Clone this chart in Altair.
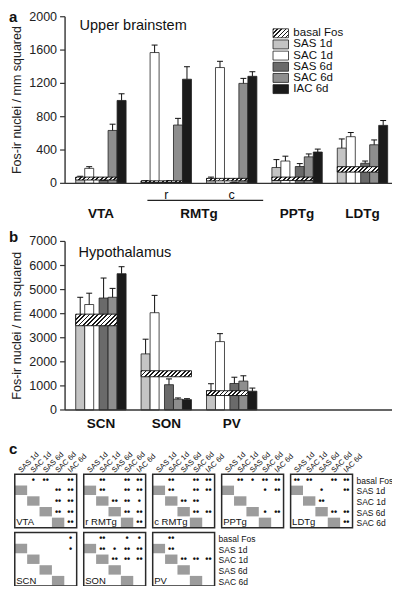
import altair as alt
import pandas as pd

# ---------------- data ----------------
conditions = ["SAS 1d", "SAC 1d", "SAS 6d", "SAC 6d", "IAC 6d"]
legend_labels = ["basal Fos", "SAS 1d", "SAC 1d", "SAS 6d", "SAC 6d", "IAC 6d"]
matrix_rows = ["basal Fos", "SAS 1d", "SAC 1d", "SAS 6d", "SAC 6d"]
y_title = "Fos-ir nuclei / mm squared"

# panel a: upper brainstem (mean, SEM per condition)
brain_groups = ["VTA", "r", "c", "PPTg", "LDTg"]
brain_ticks = [0, 400, 800, 1200, 1600, 2000]
vta_mean = [70, 180, 35, 635, 995]
vta_sem = [15, 20, 8, 75, 80]
rmtg_r_mean = [25, 1570, 25, 700, 1250]
rmtg_r_sem = [8, 90, 8, 80, 150]
rmtg_c_mean = [50, 1390, 10, 1200, 1285]
rmtg_c_sem = [25, 75, 5, 60, 55]
pptg_mean = [190, 268, 202, 318, 376]
pptg_sem = [95, 58, 35, 35, 35]
ldtg_mean = [423, 560, 241, 463, 696]
ldtg_sem = [110, 50, 27, 58, 58]
brain_basal_low = [40, 10, 30, 35, 135]
brain_basal_high = [75, 30, 60, 75, 200]
brain_basal_last = ["SAC 6d", "SAC 6d", "SAC 6d", "SAC 6d", "SAC 6d"]

# panel b: hypothalamus
hypo_groups = ["SCN", "SON", "PV"]
hypo_ticks = [0, 1000, 2000, 3000, 4000, 5000, 6000, 7000]
scn_mean = [3900, 4380, 4650, 4680, 5660]
scn_sem = [780, 470, 830, 370, 290]
son_mean = [2330, 4040, 1050, 450, 430]
son_sem = [610, 720, 240, 50, 40]
pv_mean = [800, 2840, 1100, 1200, 780]
pv_sem = [290, 330, 260, 220, 130]
hypo_basal_low = [3500, 1380, 600]
hypo_basal_high = [3980, 1630, 800]
hypo_basal_last = ["SAC 6d", "IAC 6d", "SAC 6d"]

# panel c: significance matrices (rows = matrix_rows, cols = conditions)
top_boxes = ["VTA", "r RMTg", "c RMTg", "PPTg", "LDTg"]
bottom_boxes = ["SCN", "SON", "PV"]
sig_vta = [["", "*", "**", "", "**"],
           ["", "", "", "**", "**"],
           ["", "", "", "**", "**"],
           ["", "", "", "**", "**"],
           ["", "", "", "", "**"]]
sig_rmtg_r = [["", "**", "", "**", "**"],
              ["", "**", "", "**", "**"],
              ["", "", "**", "**", "*"],
              ["", "", "", "**", "**"],
              ["", "", "", "", "**"]]
sig_rmtg_c = [["", "**", "", "**", "**"],
              ["", "**", "", "**", "**"],
              ["", "", "**", "**", ""],
              ["", "", "", "**", "**"],
              ["", "", "", "", ""]]
sig_pptg = [["", "**", "*", "**", "**"],
            ["", "", "", "*", "**"],
            ["", "", "", "", ""],
            ["", "", "", "*", "**"],
            ["", "", "", "", ""]]
sig_ldtg = [["**", "**", "", "**", "**"],
            ["", "", "*", "", "**"],
            ["", "", "**", "", ""],
            ["", "", "", "**", "**"],
            ["", "", "", "", "**"]]
sig_scn = [["", "", "", "", "*"],
           ["", "", "", "", "*"],
           ["", "", "", "", ""],
           ["", "", "", "", ""],
           ["", "", "", "", ""]]
sig_son = [["", "**", "", "*", "*"],
           ["", "**", "*", "**", "**"],
           ["", "", "**", "**", "**"],
           ["", "", "", "", ""],
           ["", "", "", "", ""]]
sig_pv = [["", "**", "", "", ""],
          ["", "**", "", "", ""],
          ["", "", "**", "**", "**"],
          ["", "", "", "", ""],
          ["", "", "", "", ""]]

# ---------------- layout / style ----------------
W, H = 384, 578
SX = W / 397.0
SY = H / 595.0


def X(v):
    return (v - 3) * SX


def Y(v):
    return (v - 3) * SY


FONT = "Liberation Sans"
INK = "#111111"
AXC = "#333333"
fills = ["#c4c4c4", "#ffffff", "#6a6a6a", "#8e8e8e", "#1b1b1b"]

UNIT = 9.3
BAR_OFF = [0, 1, 2.6, 3.6, 4.6]
GPITCH = 7.27
CAP = 0.33
XS_DOM = [(62 - 73) / UNIT, (400 - 73) / UNIT]
PXU = (X(400) - X(62)) / (XS_DOM[1] - XS_DOM[0])
GROUP_MID = (BAR_OFF[-1] + 1) / 2.0
AX_X = X(62)


def hatch(wpx, hpx, period=4.3, frac=0.42):
    wpx = max(wpx, 1.0)
    hpx = max(hpx, 1.0)
    k = wpx * (wpx + hpx) / (wpx ** 2 + hpx ** 2)
    n = max(1, int(round((wpx + hpx) / period)))
    stops = []
    for i in range(n):
        a, b, c = i / n, (i + frac) / n, (i + 1) / n
        stops += [{"offset": a, "color": "#1a1a1a"}, {"offset": b, "color": "#1a1a1a"},
                  {"offset": b, "color": "#ffffff"}, {"offset": c, "color": "#ffffff"}]
    return {"gradient": "linear", "x1": 0, "y1": 0, "x2": k, "y2": k * hpx / wpx, "stops": stops}


def bars_frame(groups, means, sems):
    rows = []
    for g, (name, m, s) in enumerate(zip(groups, means, sems)):
        for k, cond in enumerate(conditions):
            x0 = g * GPITCH + BAR_OFF[k]
            rows.append({"group": name, "cond": cond, "x0": x0, "x1": x0 + 1,
                         "xc": x0 + 0.5, "xl": x0 + 0.5 - CAP, "xr": x0 + 0.5 + CAP,
                         "mean": m[k], "top": m[k] + s[k], "base": 0})
    return pd.DataFrame(rows)


fill_enc = alt.Fill("cond:N", scale=alt.Scale(domain=conditions, range=fills), legend=None)


def bar_panel(groups, means, sems, lows, highs, lasts, ymax, ticks, y0, y1, labels, label_dy, extra=None):
    xs = alt.Scale(domain=XS_DOM, range=[X(62), X(400)], nice=False, zero=False)
    ys = alt.Scale(domain=[0, ymax], range=[Y(y0), Y(y1)], nice=False, zero=False)
    df = bars_frame(groups, means, sems)
    bars = alt.Chart(df).mark_rect(stroke="#222", strokeWidth=0.8).encode(
        x=alt.X("x0:Q", scale=xs, axis=None), x2=alt.X2("x1"),
        y=alt.Y("mean:Q", scale=ys, axis=None), y2=alt.Y2("base"),
        fill=fill_enc)
    err = alt.Chart(df).mark_rule(color=INK, strokeWidth=1).encode(
        x=alt.X("xc:Q", scale=xs, axis=None),
        y=alt.Y("mean:Q", scale=ys, axis=None), y2=alt.Y2("top"))
    caps = alt.Chart(df).mark_rule(color=INK, strokeWidth=1).encode(
        x=alt.X("xl:Q", scale=xs, axis=None), x2=alt.X2("xr"),
        y=alt.Y("top:Q", scale=ys, axis=None))
    layers = [bars, err, caps]
    pxv = (Y(y0) - Y(y1)) / ymax
    for g, (lo, hi, last) in enumerate(zip(lows, highs, lasts)):
        k = conditions.index(last)
        bx0 = g * GPITCH
        bx1 = g * GPITCH + BAR_OFF[k] + 1
        bdf = pd.DataFrame([{"x0": bx0, "x1": bx1, "lo": lo, "hi": hi}])
        layers.append(alt.Chart(bdf).mark_rect(fill=hatch((bx1 - bx0) * PXU, (hi - lo) * pxv),
                                               stroke=INK, strokeWidth=0.9).encode(
            x=alt.X("x0:Q", scale=xs, axis=None), x2=alt.X2("x1"),
            y=alt.Y("lo:Q", scale=ys, axis=None), y2=alt.Y2("hi")))
    # x baseline
    base_df = pd.DataFrame([{"xa": XS_DOM[0], "xb": XS_DOM[1], "v": 0}])
    layers.append(alt.Chart(base_df).mark_rule(color=AXC, strokeWidth=1.4).encode(
        x=alt.X("xa:Q", scale=xs, axis=None), x2=alt.X2("xb"),
        y=alt.Y("v:Q", scale=ys, axis=None)))
    # y axis: domain line, ticks, labels, title
    dom_df = pd.DataFrame([{"lo": 0, "hi": ymax}])
    layers.append(alt.Chart(dom_df).mark_rule(color=AXC, strokeWidth=1.4).encode(
        x=alt.value(AX_X), y=alt.Y("lo:Q", scale=ys, axis=None), y2=alt.Y2("hi")))
    tick_df = pd.DataFrame({"v": ticks})
    layers.append(alt.Chart(tick_df).mark_rule(color=AXC, strokeWidth=1.2).encode(
        x=alt.value(AX_X - 5), x2=alt.value(AX_X), y=alt.Y("v:Q", scale=ys, axis=None)))
    layers.append(alt.Chart(tick_df).mark_text(align="right", baseline="middle", fontSize=12.5,
                                               color="#222").encode(
        x=alt.value(AX_X - 8), y=alt.Y("v:Q", scale=ys, axis=None),
        text=alt.Text("v:Q", format="d")))
    ttl_df = pd.DataFrame([{"t": y_title, "v": ymax / 2.0}])
    layers.append(alt.Chart(ttl_df).mark_text(angle=270, align="center", baseline="middle",
                                              fontSize=12.5, color="#222").encode(
        x=alt.value(X(12)), y=alt.Y("v:Q", scale=ys, axis=None), text="t:N"))
    # group labels
    lab_df = pd.DataFrame(labels)
    lab_df["v"] = 0
    layers.append(alt.Chart(lab_df).mark_text(fontSize=13.5, fontWeight="bold", color=INK,
                                              baseline="middle", dy=label_dy).encode(
        x=alt.X("xc:Q", scale=xs, axis=None), y=alt.Y("v:Q", scale=ys, axis=None), text="t:N"))
    if extra:
        for e in extra(xs, ys):
            layers.append(e)
    return alt.layer(*layers)


def gcenter(g):
    return g * GPITCH + GROUP_MID


# ---- panel a ----
a_labels = [{"t": "VTA", "xc": gcenter(0)},
            {"t": "RMTg", "xc": (gcenter(1) + gcenter(2)) / 2},
            {"t": "PPTg", "xc": gcenter(3)},
            {"t": "LDTg", "xc": gcenter(4)}]


def a_extra(xs, ys):
    sub = pd.DataFrame([{"t": "r", "xc": gcenter(1), "v": 0}, {"t": "c", "xc": gcenter(2), "v": 0}])
    subtxt = alt.Chart(sub).mark_text(fontSize=12.5, color=INK, baseline="middle",
                                      dy=(195 - 183.5) * SY).encode(
        x=alt.X("xc:Q", scale=xs, axis=None), y=alt.Y("v:Q", scale=ys, axis=None), text="t:N")
    br = pd.DataFrame([{"xa": 1 * GPITCH + 0.7, "xb": 2 * GPITCH + BAR_OFF[-1] + 1.7}])
    bracket = alt.Chart(br).mark_rule(color="#222", strokeWidth=1.2).encode(
        x=alt.X("xa:Q", scale=xs, axis=None), x2=alt.X2("xb"), y=alt.value(Y(201)))
    return [subtxt, bracket]


panel_a = bar_panel(brain_groups,
                    [vta_mean, rmtg_r_mean, rmtg_c_mean, pptg_mean, ldtg_mean],
                    [vta_sem, rmtg_r_sem, rmtg_c_sem, pptg_sem, ldtg_sem],
                    brain_basal_low, brain_basal_high, brain_basal_last,
                    2000, brain_ticks, 183.5, 12, a_labels, (215 - 183.5) * SY, a_extra)

# ---- panel b ----
b_labels = [{"t": n, "xc": gcenter(g)} for g, n in enumerate(hypo_groups)]
panel_b = bar_panel(hypo_groups, [scn_mean, son_mean, pv_mean], [scn_sem, son_sem, pv_sem],
                    hypo_basal_low, hypo_basal_high, hypo_basal_last,
                    7000, hypo_ticks, 416.8, 243.3, b_labels, (431 - 416.8) * SY)

# ---- legend (panel a) ----
leg_y = alt.Scale(domain=legend_labels, range=[Y(23.25), Y(92.25)], paddingInner=0.2, paddingOuter=0.1)
leg_df = pd.DataFrame({"label": conditions, "cond": conditions})
leg_sw = alt.Chart(leg_df).mark_rect(stroke="#222", strokeWidth=0.8).encode(
    x=alt.value(X(277)), x2=alt.value(X(293)),
    y=alt.Y("label:N", scale=leg_y, axis=None), fill=fill_enc)
leg_hatch = alt.Chart(pd.DataFrame({"label": ["basal Fos"]})).mark_rect(
    fill=hatch(16 * SX, 9.2 * SY, period=4.0), stroke="#222", strokeWidth=0.8).encode(
    x=alt.value(X(277)), x2=alt.value(X(293)),
    y=alt.Y("label:N", scale=leg_y, axis=None))
leg_txt = alt.Chart(pd.DataFrame({"label": legend_labels})).mark_text(
    align="left", baseline="middle", fontSize=11.5, color=INK).encode(
    x=alt.value(X(298)), y=alt.Y("label:N", scale=leg_y, axis=None), text="label:N")
legend = alt.layer(leg_sw, leg_hatch, leg_txt)

# ---- panel c ----
PC = 5.57
PR = 5.45
cx = alt.Scale(domain=[0, 30], range=[X(10), X(10 + 30 * 12.8)], nice=False, zero=False)
cy = alt.Scale(domain=[0, 11], range=[Y(483), Y(483 + 11 * 11)], nice=False, zero=False)

frames, grays, stars, blabels, heads, rlabels = [], [], [], [], [], []
for block, (names, mats) in enumerate([(top_boxes, [sig_vta, sig_rmtg_r, sig_rmtg_c, sig_pptg, sig_ldtg]),
                                        (bottom_boxes, [sig_scn, sig_son, sig_pv])]):
    by = block * PR
    for b, (name, mat) in enumerate(zip(names, mats)):
        bx = b * PC
        frames.append({"x0": bx, "x1": bx + 5, "y0": by, "y1": by + 5})
        blabels.append({"x": bx + 0.12, "y": by + 4.5, "t": name})
        for r in range(1, 5):
            grays.append({"x0": bx + r - 1, "x1": bx + r, "y0": by + r + 0.06, "y1": by + r + 0.94})
        for r, row in enumerate(mat):
            for c, s in enumerate(row):
                if s:
                    stars.append({"x": bx + c + 0.5, "y": by + r + 0.5, "t": "\u2022" * len(s)})
        if block == 0:
            for c, cond in enumerate(conditions):
                heads.append({"x": bx + c + 0.4, "y": by - 0.25, "t": cond})
    for r, lab in enumerate(matrix_rows):
        rlabels.append({"x": len(names) * PC - 0.25, "y": by + r + 0.6, "t": lab})

c_gray = alt.Chart(pd.DataFrame(grays)).mark_rect(color="#9c9c9c").encode(
    x=alt.X("x0:Q", scale=cx, axis=None), x2=alt.X2("x1"),
    y=alt.Y("y0:Q", scale=cy, axis=None), y2=alt.Y2("y1"))
c_frame = alt.Chart(pd.DataFrame(frames)).mark_rect(fillOpacity=0, stroke="#2a2a2a", strokeWidth=1.5).encode(
    x=alt.X("x0:Q", scale=cx, axis=None), x2=alt.X2("x1"),
    y=alt.Y("y0:Q", scale=cy, axis=None), y2=alt.Y2("y1"))
c_stars = alt.Chart(pd.DataFrame(stars)).mark_text(fontSize=9, fontWeight="bold", color=INK,
                                                   baseline="middle").encode(
    x=alt.X("x:Q", scale=cx, axis=None), y=alt.Y("y:Q", scale=cy, axis=None), text="t:N")
c_blab = alt.Chart(pd.DataFrame(blabels)).mark_text(fontSize=9.5, color=INK, align="left",
                                                    baseline="middle").encode(
    x=alt.X("x:Q", scale=cx, axis=None), y=alt.Y("y:Q", scale=cy, axis=None), text="t:N")
c_head = alt.Chart(pd.DataFrame(heads)).mark_text(fontSize=7.5, color=INK, align="left",
                                                  baseline="middle", angle=315).encode(
    x=alt.X("x:Q", scale=cx, axis=None), y=alt.Y("y:Q", scale=cy, axis=None), text="t:N")
c_rlab = alt.Chart(pd.DataFrame(rlabels)).mark_text(fontSize=8.5, color=INK, align="left",
                                                    baseline="middle").encode(
    x=alt.X("x:Q", scale=cx, axis=None), y=alt.Y("y:Q", scale=cy, axis=None), text="t:N")
panel_c = alt.layer(c_gray, c_frame, c_stars, c_blab, c_head, c_rlab)


# ---- panel letters and titles ----
def note(txt, x, y, size, weight="normal"):
    return alt.Chart(pd.DataFrame({"t": [txt]})).mark_text(
        align="left", baseline="middle", fontSize=size, fontWeight=weight, color=INK).encode(
        x=alt.value(x), y=alt.value(y), text="t:N")


notes = [note("a", X(4), Y(12), 15, "bold"),
         note("b", X(4), Y(239), 15, "bold"),
         note("c", X(4), Y(457), 15, "bold"),
         note("Upper brainstem", X(77), Y(22), 14.5),
         note("Hypothalamus", X(76), Y(255), 14.5)]

chart = alt.layer(panel_a, panel_b, panel_c, legend, *notes).resolve_scale(
    x="independent", y="independent"
).properties(
    width=W, height=H, padding=0, autosize=alt.AutoSizeParams(type="none")
).configure(font=FONT).configure_view(stroke=None)

chart.save("out.html", embed_options={"renderer": "svg", "actions": False})
